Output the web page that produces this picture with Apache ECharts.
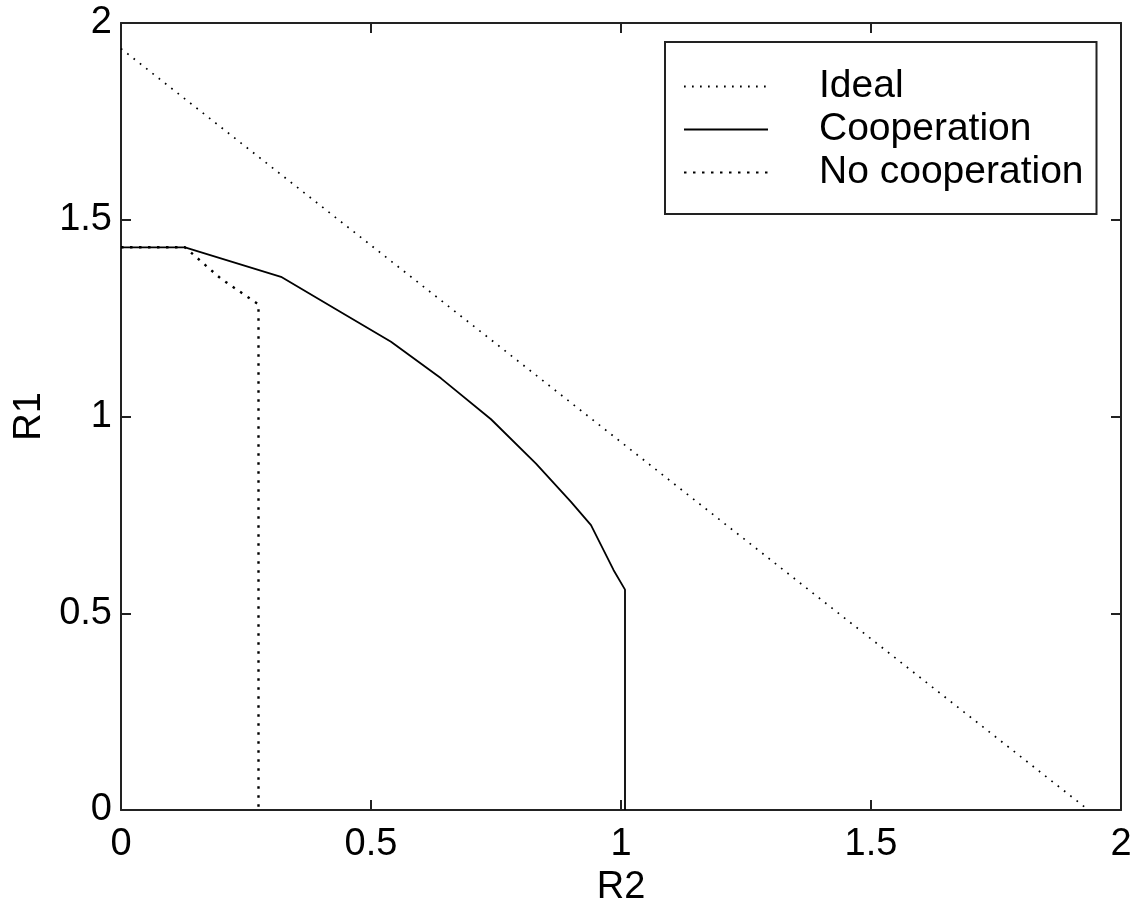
<!DOCTYPE html>
<html>
<head>
<meta charset="utf-8">
<title>Rate regions</title>
<script src="https://cdn.jsdelivr.net/npm/echarts@6/dist/echarts.min.js"></script>
<style>
  html, body { margin: 0; padding: 0; background: #fff; }
  #chart { width: 1131px; height: 899px; }
</style>
</head>
<body>
<div id="chart"></div>
<script>
// Achievable rate pairs (R2, R1) for each scheme
var idealR2 = [0, 1.935];
var idealR1 = [1.935, 0];

var coopR2 = [0, 0.128, 0.32, 0.44, 0.54, 0.64, 0.74, 0.83, 0.90, 0.94, 0.985, 1.008, 1.008];
var coopR1 = [1.43, 1.43, 1.355, 1.265, 1.19, 1.097, 0.993, 0.88, 0.783, 0.724, 0.61, 0.56, 0];

var noCoopR2 = [0, 0.128, 0.20, 0.275, 0.275];
var noCoopR1 = [1.43, 1.43, 1.35, 1.285, 0];

var seriesNames = ['Ideal', 'Cooperation', 'No cooperation'];
var axisTicks = [0, 0.5, 1, 1.5, 2];

function pairs(xs, ys) {
  return xs.map(function (x, i) { return [x, ys[i]]; });
}

var FONT = '"Liberation Sans", Arial, Helvetica, sans-serif';
var frameLine = { onZero: false, lineStyle: { color: '#222', width: 2 } };
var innerTick = { show: true, inside: true, length: 10, lineStyle: { color: '#222', width: 2 } };

function tickLabel(v) {
  return axisTicks.indexOf(v) >= 0 ? String(v) : '';
}

var chart = echarts.init(document.getElementById('chart'), null, { renderer: 'canvas' });

chart.setOption({
  animation: false,
  backgroundColor: '#fff',
  grid: { left: 121, right: 10, top: 23, bottom: 89, containLabel: false, outerBoundsMode: 'none' },
  legend: {
    orient: 'vertical',
    left: 665,
    top: 42,
    data: seriesNames,
    itemWidth: 84,
    itemHeight: 14,
    itemGap: 2,
    padding: [24, 13, 21, 18],
    borderColor: '#222',
    borderWidth: 2,
    backgroundColor: '#fff',
    itemStyle: { opacity: 0 },
    textStyle: {
      fontFamily: FONT,
      fontSize: 39,
      color: '#000',
      lineHeight: 41,
      padding: [0, 0, 0, 46]
    }
  },
  xAxis: [{
    type: 'value',
    min: 0, max: 2, interval: 0.5,
    position: 'bottom',
    name: 'R2',
    nameLocation: 'middle',
    nameGap: 52,
    nameTextStyle: { fontFamily: FONT, fontSize: 38, color: '#000' },
    axisLine: frameLine,
    axisTick: innerTick,
    axisLabel: { fontFamily: FONT, fontSize: 38, color: '#000', margin: 16, formatter: tickLabel },
    splitLine: { show: false }
  }, {
    type: 'value',
    min: 0, max: 2, interval: 0.5,
    position: 'top',
    axisLine: frameLine,
    axisTick: innerTick,
    axisLabel: { show: false },
    splitLine: { show: false }
  }],
  yAxis: [{
    type: 'value',
    min: 0, max: 2, interval: 0.5,
    position: 'left',
    name: 'R1',
    nameLocation: 'middle',
    nameGap: 59,
    nameRotate: 90,
    nameTextStyle: { fontFamily: FONT, fontSize: 38, color: '#000' },
    axisLine: frameLine,
    axisTick: innerTick,
    axisLabel: { fontFamily: FONT, fontSize: 38, color: '#000', margin: 9, formatter: tickLabel },
    splitLine: { show: false }
  }, {
    type: 'value',
    min: 0, max: 2, interval: 0.5,
    position: 'right',
    axisLine: frameLine,
    axisTick: innerTick,
    axisLabel: { show: false },
    splitLine: { show: false }
  }],
  series: [{
    name: seriesNames[0],
    type: 'line',
    symbol: 'none',
    data: pairs(idealR2, idealR1),
    color: '#000',
    lineStyle: { color: '#000', width: 1.7, type: [1.7, 6.3] }
  }, {
    name: seriesNames[1],
    type: 'line',
    symbol: 'none',
    data: pairs(coopR2, coopR1),
    color: '#000',
    lineStyle: { color: '#000', width: 1.8, type: 'solid' }
  }, {
    name: seriesNames[2],
    type: 'line',
    symbol: 'none',
    data: pairs(noCoopR2, noCoopR1),
    color: '#000',
    lineStyle: { color: '#000', width: 2.4, type: [2.5, 6.5] }
  }]
});
</script>
</body>
</html>
